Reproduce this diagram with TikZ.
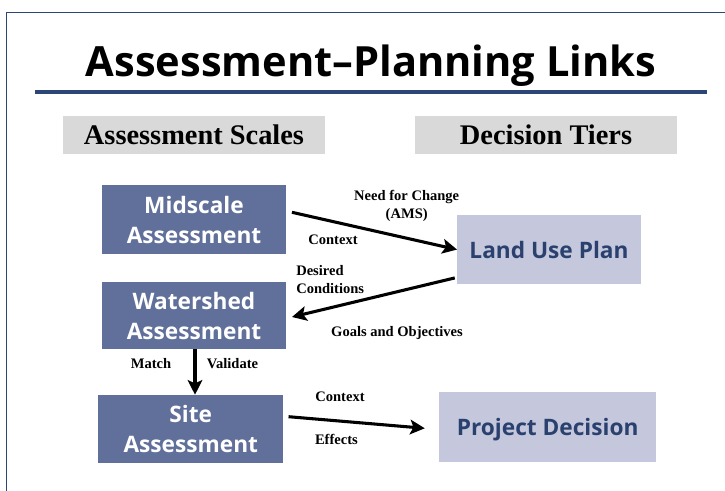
\documentclass[tikz,border=0pt]{standalone}
\usepackage{fontspec}
\setmainfont{Liberation Serif}
\newfontfamily\boxfont{Open Sans}
\usetikzlibrary{arrows.meta}
\definecolor{boxblue}{RGB}{96,112,155}
\definecolor{boxlight}{RGB}{197,200,220}
\definecolor{darktext}{RGB}{42,64,110}
\definecolor{barblue}{RGB}{44,70,117}
\definecolor{hdrgray}{RGB}{217,217,217}
\tikzset{
  hdr/.style={fill=hdrgray, minimum width=196.5pt, minimum height=28.5pt, inner sep=0pt,
    font=\bfseries\fontsize{21.3}{24}\selectfont},
  scalebox/.style={fill=boxblue, text=white, align=center, inner sep=0pt, text depth=0pt,
    font=\boxfont\bfseries\fontsize{17}{22.5}\selectfont},
  tierbox/.style={fill=boxlight, text=darktext, align=center, inner sep=0pt, text depth=0pt,
    font=\boxfont\bfseries\fontsize{17}{22.5}\selectfont},
  lbl/.style={inner sep=0pt, font=\bfseries\fontsize{10.9}{14.2}\selectfont},
  arr/.style={line width=2.3pt, -{Stealth[length=11pt,width=11pt,inset=2.5pt]}}
}
\begin{document}
\begin{tikzpicture}[x=0.75pt,y=-0.75pt]
\useasboundingbox (0,0) rectangle (725,491);
% frame
\draw[barblue, line width=1.1pt] (725,12.5) -- (6.5,12.5) -- (6.5,491);
% title and bar
\node[anchor=base, inner sep=0pt, font=\boxfont\bfseries\fontsize{31.2}{36}\selectfont] (title) at (371,77) {Assessment–Planning Links};
\fill[barblue] (35,90) rectangle (706.5,94);
% headers
\node[hdr] (hscales) at (194,135) {Assessment Scales};
\node[hdr] (htiers) at (546,135) {Decision Tiers};
% boxes
\node[scalebox, minimum width=138pt, minimum height=51.75pt] (mid) at (194,219.5) {Midscale\\Assessment};
\node[scalebox, minimum width=138pt, minimum height=50.25pt] (ws) at (194,315.5) {Watershed\\Assessment};
\node[scalebox, minimum width=139.1pt, minimum height=51pt] (site) at (190.75,429) {Site\\Assessment};
\node[tierbox, minimum width=137.5pt, minimum height=52pt] (lup) at (549,249.6) {Land Use Plan};
\node[tierbox, minimum width=162.5pt, minimum height=52.3pt] (proj) at (547.7,426.8) {Project Decision};
% arrows
\draw[arr] ([shift={(5.7,-7.2)}]mid.east) -- (lup.west);
\draw[arr] ([shift={(-2.3,-6.6)}]lup.south west) -- ([shift={(5.7,1.5)}]ws.east);
\draw[arr] ([shift={(1,0)}]ws.south) -- ([shift={(4.25,0)}]site.north);
\draw[arr] ([shift={(4.8,-12.3)}]site.east) -- ([shift={(-14.3,1.5)}]proj.west);
% labels
\node[lbl, anchor=base, align=center] (need) at (406.7,219) {Need for Change\\(AMS)};
\node[lbl, anchor=base] (ctx1) at (333,245) {Context};
\node[lbl, anchor=base west, align=left] (desired) at (296,294) {Desired\\Conditions};
\node[lbl, anchor=base] (goals) at (397,336.7) {Goals and Objectives};
\node[lbl, anchor=base] (match) at (151,369) {Match};
\node[lbl, anchor=base] (validate) at (232.5,369) {Validate};
\node[lbl, anchor=base] (ctx2) at (340,401.7) {Context};
\node[lbl, anchor=base] (effects) at (336.4,445) {Effects};
\end{tikzpicture}
\end{document}
